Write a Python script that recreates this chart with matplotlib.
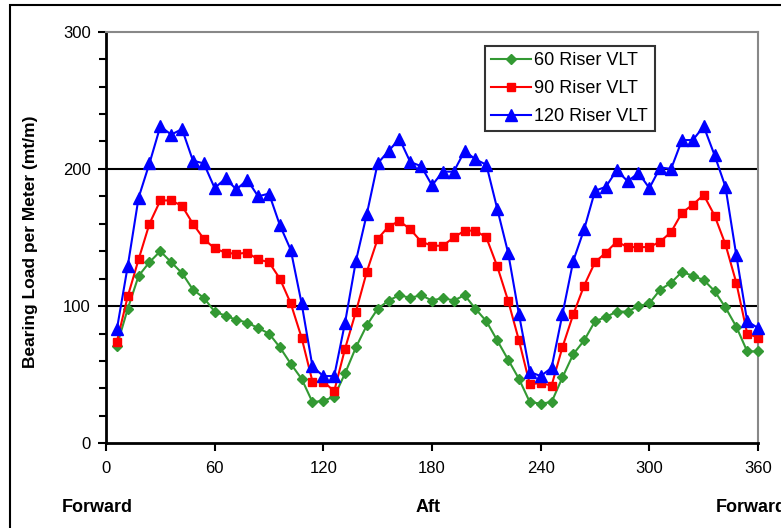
import numpy as np
import matplotlib
matplotlib.use("Agg")
import matplotlib.pyplot as plt
from matplotlib.patches import Rectangle
from matplotlib.ticker import MultipleLocator

plt.rcParams["font.family"] = ["Liberation Sans", "DejaVu Sans"]

# heading in degrees, one reading every 6 degrees
heading = np.arange(6, 361, 6)

load_60 = [71, 98, 122, 132, 140, 132, 124, 112, 106, 96,
           93, 90, 88, 84, 80, 70, 58, 47, 30, 31,
           34, 51, 70, 86, 98, 104, 108, 106, 108, 104,
           106, 104, 108, 98, 89, 75, 61, 47, 30, 29,
           30, 48, 65, 75, 89, 92, 96, 96, 100, 102,
           112, 117, 125, 122, 119, 111, 99, 85, 67, 67]

load_90 = [74, 107, 134, 160, 177, 177, 173, 160, 149, 142,
           139, 138, 139, 134, 132, 120, 102, 77, 45, 45,
           38, 69, 96, 125, 149, 158, 162, 156, 147, 144,
           144, 150, 155, 155, 150, 129, 104, 75, 43, 44,
           42, 70, 94, 115, 132, 139, 147, 143, 143, 143,
           147, 154, 168, 174, 181, 166, 145, 117, 80, 77]

load_120 = [83, 129, 179, 204, 231, 225, 229, 206, 204, 186,
            193, 185, 192, 180, 182, 159, 141, 102, 56, 49,
            49, 88, 133, 167, 204, 213, 222, 205, 202, 188,
            198, 198, 213, 207, 203, 171, 139, 94, 52, 49,
            55, 94, 133, 156, 184, 187, 199, 191, 197, 186,
            201, 200, 221, 221, 231, 210, 187, 137, 89, 84]

series = [
    ("60 Riser VLT", load_60, "#339933", "D", 5),
    ("90 Riser VLT", load_90, "#ff0000", "s", 6),
    ("120 Riser VLT", load_120, "#0000ff", "^", 8),
]

x_ticks = [0, 60, 120, 180, 240, 300, 360]
y_ticks = [0, 100, 200, 300]
directions = [(-5, "Forward"), (178, "Aft"), (356, "Forward")]

fig = plt.figure(figsize=(7.81, 5.28), dpi=100)
ax = fig.add_axes([0.1357, 0.1604, 0.8349, 0.7796])

for label, vals, color, marker, ms in series:
    ax.plot(heading, vals, color=color, marker=marker, markersize=ms,
            linewidth=1.5, label=label, clip_on=False, zorder=3)

ax.set_xlim(0, 360)
ax.set_ylim(0, 300)
ax.set_xticks(x_ticks)
ax.set_yticks(y_ticks)
ax.yaxis.set_minor_locator(MultipleLocator(20))
ax.tick_params(axis="both", direction="out", length=6, width=1.5,
               labelsize=12, colors="black")
ax.tick_params(axis="y", which="minor", direction="out", length=5, width=1.5)
ax.tick_params(axis="x", pad=7)
ax.tick_params(axis="y", pad=5)

for v in (100, 200):
    ax.axhline(v, color="black", linewidth=1.5, zorder=1)

ax.spines["left"].set_linewidth(2)
ax.spines["bottom"].set_linewidth(2)
ax.spines["top"].set_color("#888888")
ax.spines["right"].set_color("#888888")
ax.spines["top"].set_linewidth(1.5)
ax.spines["right"].set_linewidth(1.5)

ax.set_ylabel("Bearing Load per Meter (mt/m)", fontsize=12.5,
              fontweight="bold")
ax.yaxis.set_label_coords(-0.105, 0.49)

for xv, txt in directions:
    ax.text(xv, -47, txt, ha="center", va="center", fontsize=13,
            fontweight="bold", clip_on=False)

leg = ax.legend(loc="upper left", bbox_to_anchor=(0.581, 0.965),
                fontsize=13, frameon=True, fancybox=False, shadow=False,
                borderpad=0.35, labelspacing=0.6, handlelength=2.2,
                handletextpad=0.2, borderaxespad=0)
leg.get_frame().set_edgecolor("black")
leg.get_frame().set_linewidth(1.5)

fig.patches.append(Rectangle((10 / 781, -0.2), 1.5, 1.2 - 5 / 528,
                             transform=fig.transFigure, fill=False,
                             edgecolor="black", linewidth=1.5))

fig.savefig("out.png", dpi=100)
